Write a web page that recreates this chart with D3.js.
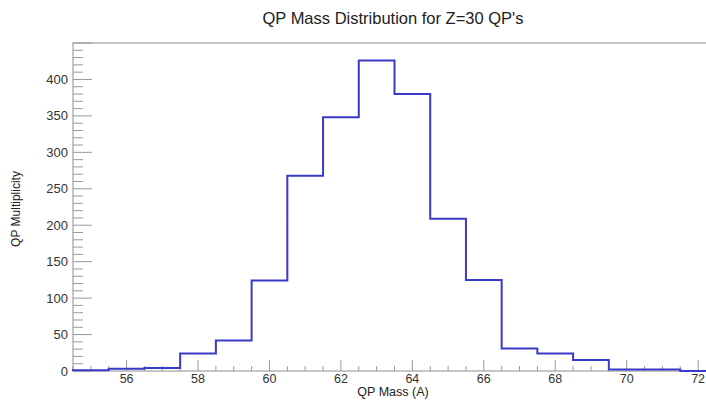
<!DOCTYPE html>
<html>
<head>
<meta charset="utf-8">
<title>QP Mass Distribution for Z=30 QP's</title>
<script src="https://cdn.jsdelivr.net/npm/d3@7"></script>
<style>
  body { margin: 0; background: #fff; }
  svg { display: block; font-family: "Liberation Sans", Arial, sans-serif; }
</style>
</head>
<body>
<script>
// bin centres (QP mass, integer A) and counts
var binCenters = [55, 56, 57, 58, 59, 60, 61, 62, 63, 64, 65, 66, 67, 68, 69, 70, 71, 72];
var binCounts  = [1, 3, 4, 24, 42, 124, 268, 348, 426, 380, 209, 125, 31, 24, 15, 2, 2, 0];
var xTicks = [56, 58, 60, 62, 64, 66, 68, 70, 72];
var yTicks = [0, 50, 100, 150, 200, 250, 300, 350, 400];

var W = 706, H = 402;
// plot frame (right edge is cut off by the window)
var frame = { left: 73, top: 43, bottom: 371, right: 716 };

var svg = d3.select("body").append("svg")
    .attr("width", W).attr("height", H);

var x = d3.scaleLinear().domain([54.5, 72.5]).range([frame.left, frame.right]);
var y = d3.scaleLinear().domain([0, 450]).range([frame.bottom, frame.top]);

// frame
svg.append("rect")
    .attr("x", frame.left).attr("y", frame.top)
    .attr("width", frame.right - frame.left).attr("height", frame.bottom - frame.top)
    .attr("fill", "none").attr("stroke", "#b4b4b4").attr("stroke-width", 1.5);

// ticks
var grey = "#9a9a9a";
svg.append("g").selectAll("line")
    .data(d3.range(0, 451, 10))
    .enter().append("line")
    .attr("x1", frame.left).attr("x2", function(d) { return frame.left + (d % 50 === 0 ? 19 : 10); })
    .attr("y1", function(d) { return y(d); }).attr("y2", function(d) { return y(d); })
    .attr("stroke", grey).attr("stroke-width", 1);

svg.append("g").selectAll("line")
    .data(d3.range(54.5, 72.6, 0.5))
    .enter().append("line")
    .attr("x1", function(d) { return x(d); }).attr("x2", function(d) { return x(d); })
    .attr("y1", frame.bottom).attr("y2", function(d) { return frame.bottom - (d % 2 === 0 ? 11 : 5); })
    .attr("stroke", grey).attr("stroke-width", 1);

// tick labels
svg.append("g").selectAll("text")
    .data(yTicks)
    .enter().append("text")
    .attr("x", 68).attr("y", function(d) { return y(d) + 4.5; })
    .attr("text-anchor", "end")
    .attr("font-size", 13).attr("fill", "#333")
    .text(function(d) { return d; });

svg.append("g").selectAll("text")
    .data(xTicks)
    .enter().append("text")
    .attr("x", function(d) { return x(d); }).attr("y", 383)
    .attr("text-anchor", "middle")
    .attr("font-size", 12.5).attr("fill", "#333")
    .text(function(d) { return d; });

// histogram step line
var pts = [[54.5, 0]];
binCenters.forEach(function(c, i) {
  pts.push([c - 0.5, binCounts[i]]);
  pts.push([c + 0.5, binCounts[i]]);
});
pts.push([72.5, 0]);

var line = d3.line()
    .x(function(d) { return x(d[0]); })
    .y(function(d) { return y(d[1]); });

svg.append("path")
    .datum(pts)
    .attr("d", line)
    .attr("fill", "none")
    .attr("stroke", "#3a3ac8")
    .attr("stroke-width", 2);

// titles
svg.append("text")
    .attr("x", 393).attr("y", 24)
    .attr("text-anchor", "middle")
    .attr("font-size", 16.5).attr("fill", "#222")
    .text("QP Mass Distribution for Z=30 QP's");

svg.append("text")
    .attr("x", 393).attr("y", 396)
    .attr("text-anchor", "middle")
    .attr("font-size", 12.5).attr("fill", "#222")
    .text("QP Mass (A)");

svg.append("text")
    .attr("transform", "translate(20,209) rotate(-90)")
    .attr("text-anchor", "middle")
    .attr("font-size", 12).attr("fill", "#222")
    .text("QP Multiplicity");
</script>
</body>
</html>
